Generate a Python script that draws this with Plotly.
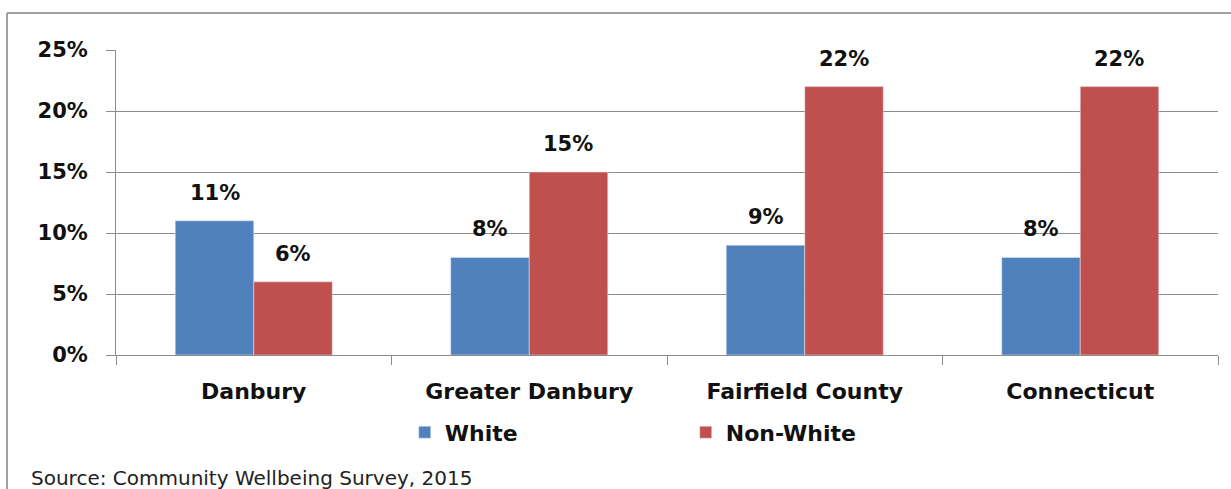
import plotly.graph_objects as go

categories = ["Danbury", "Greater Danbury", "Fairfield County", "Connecticut"]
white = [11, 8, 9, 8]
non_white = [6, 15, 22, 22]
y_ticks = [0, 5, 10, 15, 20, 25]
y_tick_labels = ["0%", "5%", "10%", "15%", "20%", "25%"]

BLUE = "#4F81BD"
RED = "#C0504D"
GRID = "#8c8c8c"
FONT = "DejaVu Sans"


def bold(size):
    return dict(family=FONT, size=size, color="#111", weight="bold")


fig = go.Figure()
fig.add_trace(go.Bar(x=categories, y=white, name="White", marker_color=BLUE))
fig.add_trace(go.Bar(x=categories, y=non_white, name="Non-White", marker_color=RED))

# value labels sitting a little above each bar
for series, shift in ((white, -39), (non_white, 39)):
    for cat, v in zip(categories, series):
        fig.add_annotation(
            x=cat, y=v, xref="x", yref="y", text=f"{v}%", showarrow=False,
            xshift=shift, yshift=14, yanchor="bottom", font=bold(21),
        )

fig.update_layout(
    width=1231, height=489,
    margin=dict(l=116, r=13, t=50, b=134),
    barmode="group", bargap=0.43, bargroupgap=0,
    plot_bgcolor="white", paper_bgcolor="white",
    font=dict(family=FONT, color="#111"),
    showlegend=True,
    legend=dict(
        orientation="h", x=0.262, y=-0.185, xanchor="left", yanchor="top",
        font=bold(22),
        entrywidth=236, entrywidthmode="pixels", itemwidth=30,
    ),
)
fig.update_yaxes(
    range=[0, 25], tickvals=y_ticks, ticktext=y_tick_labels,
    showgrid=True, gridcolor=GRID, gridwidth=1,
    showline=True, linecolor=GRID, linewidth=1,
    ticks="outside", ticklen=9, tickcolor=GRID,
    tickfont=bold(21), zeroline=False, ticklabelstandoff=14,
)
fig.update_xaxes(
    showline=True, linecolor=GRID, linewidth=1,
    ticks="outside", ticklen=9, tickcolor=GRID, tickson="boundaries",
    tickfont=bold(22), ticklabelstandoff=17,
)

# chart frame (top and left edges)
fx = (7 - 116) / 1102
fy = (355 - 13) / 305
fig.add_shape(type="line", xref="paper", yref="paper",
              x0=fx, x1=1.2, y0=fy, y1=fy, line=dict(color="#a0a0a0", width=2))
fig.add_shape(type="line", xref="paper", yref="paper",
              x0=fx, x1=fx, y0=fy, y1=-0.6, line=dict(color="#a0a0a0", width=2))

fig.add_annotation(
    text="Source: Community Wellbeing Survey, 2015",
    xref="paper", yref="paper", x=(29 - 116) / 1102, y=(355 - 478) / 305,
    xanchor="left", yanchor="middle", showarrow=False,
    font=dict(family=FONT, size=20, color="#222"),
)

fig.write_html("out.html")
